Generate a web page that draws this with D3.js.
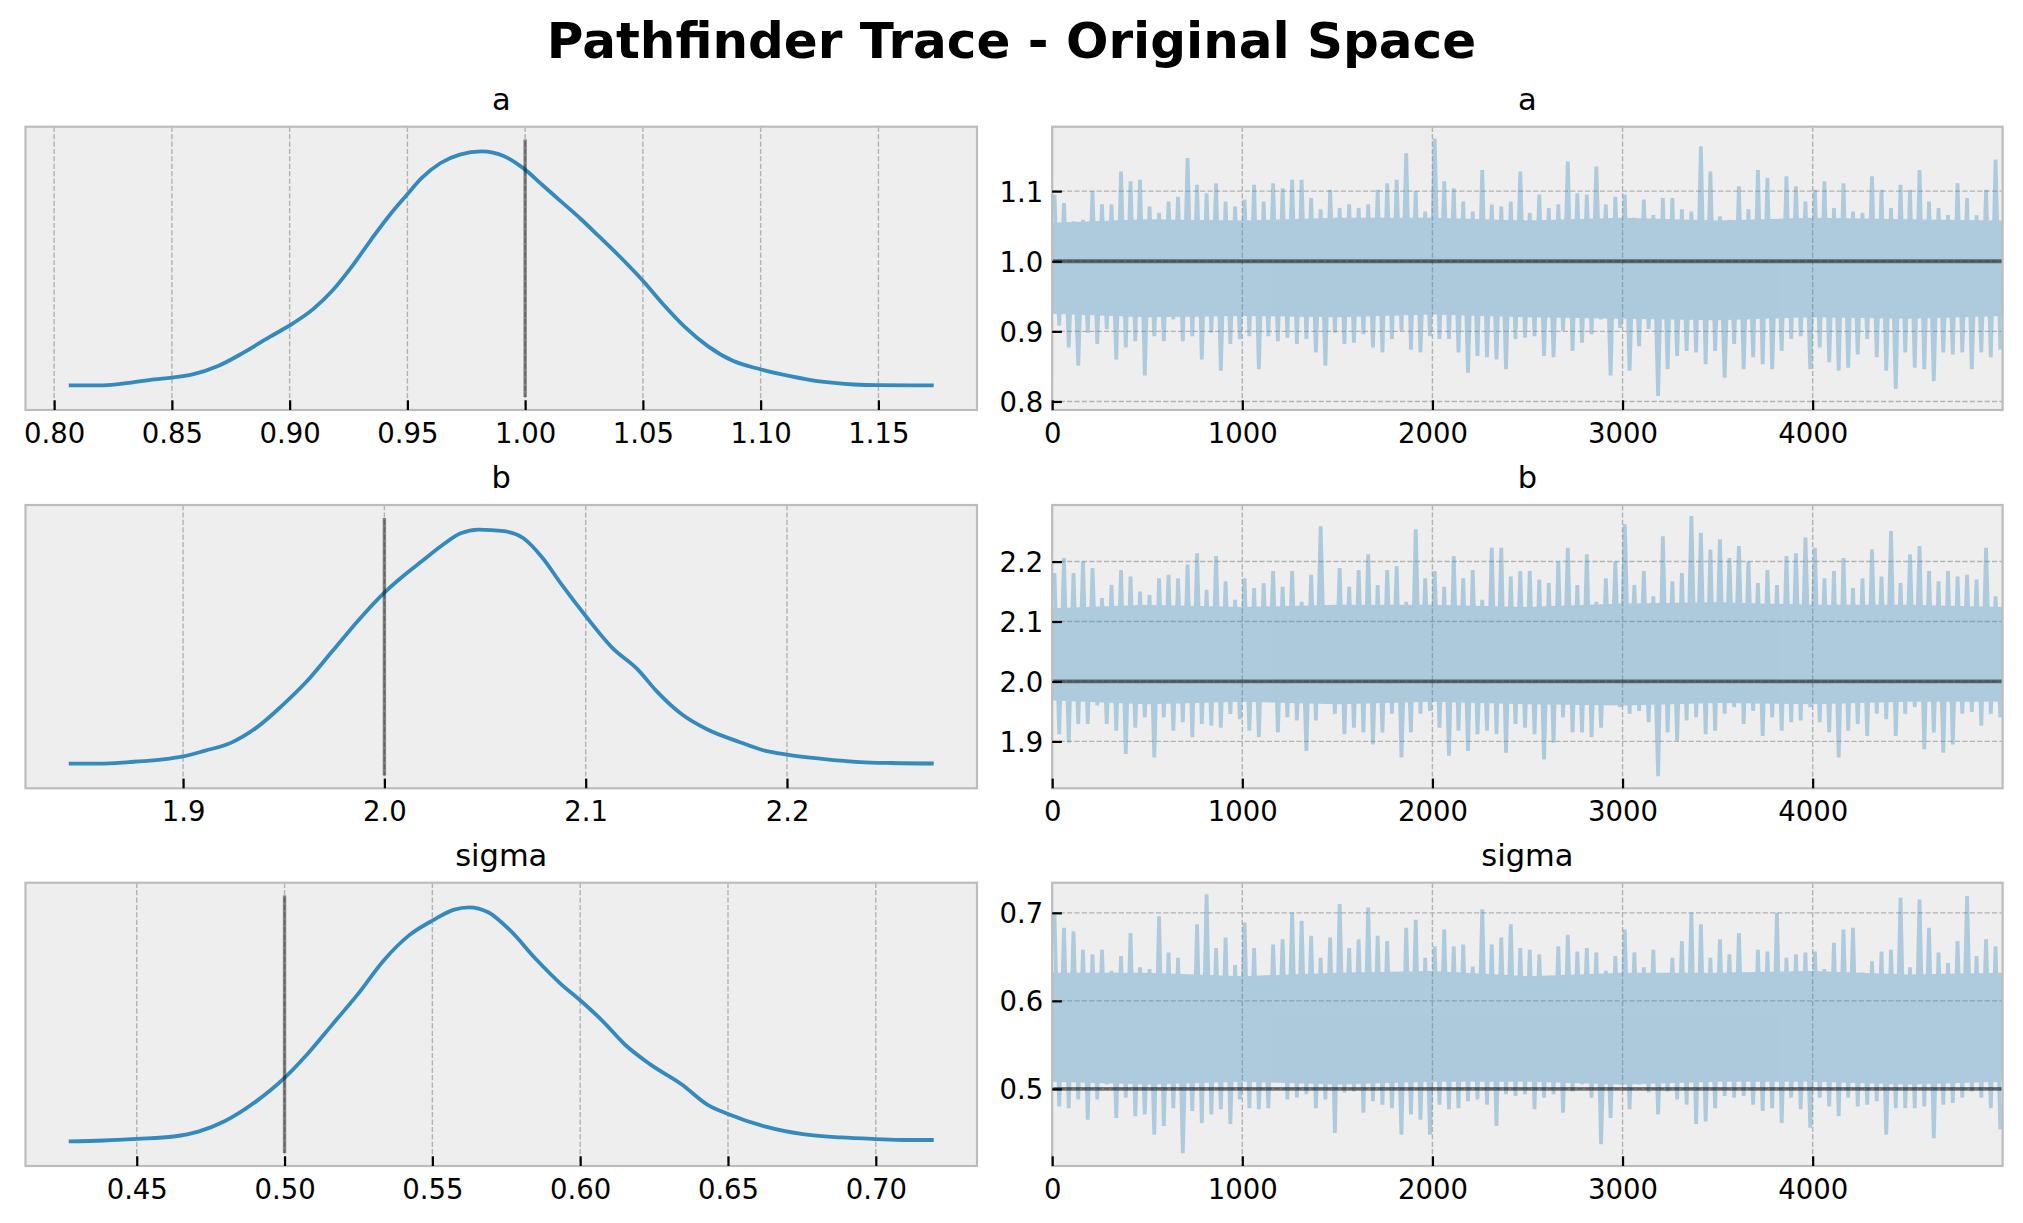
<!DOCTYPE html>
<html>
<head>
<meta charset="utf-8">
<script src="https://cdn.jsdelivr.net/npm/d3@7"></script>
<style>
  body { margin: 0; background: #ffffff; }
  svg { display: block; font-family: "DejaVu Sans", sans-serif; }
</style>
</head>
<body>
<div id="chart"></div>
<script>
// ---- data ----
var chartTitle = "Pathfinder Trace - Original Space";
var varNames = ["a", "b", "sigma"];
var refValues = [1.0, 2.0, 0.5];

// KDE curves (x = parameter value, y = relative density)
var kdeAX = [0.8062, 0.8210, 0.8318, 0.8426, 0.8499, 0.8588, 0.8696, 0.8804, 0.8912, 0.8998,
  0.9101, 0.9182, 0.9263, 0.9344, 0.9425, 0.9498, 0.9560, 0.9641, 0.9722, 0.9816,
  0.9911, 0.9992, 1.0072, 1.0153, 1.0234, 1.0315, 1.0396, 1.0499, 1.0585, 1.0680,
  1.0774, 1.0882, 1.0998, 1.1125, 1.1260, 1.1395, 1.1500, 1.1735];
var kdeAY = [0.000, 0.000, 0.011, 0.026, 0.033, 0.047, 0.083, 0.140, 0.205, 0.255,
  0.327, 0.405, 0.506, 0.620, 0.728, 0.814, 0.885, 0.950, 0.986, 1.000,
  0.979, 0.928, 0.857, 0.785, 0.713, 0.635, 0.556, 0.448, 0.348, 0.248,
  0.169, 0.105, 0.069, 0.040, 0.016, 0.004, 0.001, 0.000];

var kdeBX = [1.8432, 1.8589, 1.8732, 1.8921, 1.9000, 1.9110, 1.9237, 1.9363, 1.9489, 1.9616,
  1.9742, 1.9868, 2.0000, 2.0095, 2.0189, 2.0284, 2.0379, 2.0468, 2.0595, 2.0689,
  2.0784, 2.0879, 2.1000, 2.1131, 2.1258, 2.1352, 2.1479, 2.1605, 2.1763, 2.1889,
  2.2000, 2.2174, 2.2363, 2.2521, 2.2729];
var kdeBY = [0.000, 0.000, 0.007, 0.021, 0.031, 0.056, 0.089, 0.153, 0.246, 0.353,
  0.481, 0.610, 0.731, 0.803, 0.867, 0.931, 0.984, 1.000, 0.993, 0.964,
  0.881, 0.767, 0.631, 0.496, 0.403, 0.310, 0.210, 0.146, 0.093, 0.056,
  0.039, 0.021, 0.007, 0.003, 0.001];

var kdeSX = [0.4270, 0.4388, 0.4500, 0.4625, 0.4711, 0.4797, 0.4904, 0.5000, 0.5076, 0.5162,
  0.5248, 0.5334, 0.5420, 0.5500, 0.5571, 0.5624, 0.5689, 0.5764, 0.5850, 0.5936,
  0.6000, 0.6076, 0.6151, 0.6237, 0.6344, 0.6430, 0.6500, 0.6624, 0.6753, 0.6882,
  0.7000, 0.7097, 0.7196];
var kdeSY = [0.000, 0.004, 0.011, 0.021, 0.043, 0.086, 0.171, 0.271, 0.371, 0.500,
  0.629, 0.771, 0.879, 0.943, 0.989, 1.000, 0.979, 0.900, 0.779, 0.671,
  0.603, 0.514, 0.414, 0.329, 0.243, 0.157, 0.117, 0.064, 0.031, 0.017,
  0.010, 0.006, 0.006];

// trace: highest / lowest draw in each block of 50 draws (100 blocks, 5000 draws)
var nDraws = 5000;
var blockSize = 50;
var traceAHi = [1.095,1.083,1.057,1.059,1.100,1.081,1.081,1.128,1.114,1.116,1.078,1.069,1.085,1.092,1.147,1.109,1.097,1.111,1.085,1.078,
  1.088,1.109,1.085,1.111,1.104,1.116,1.116,1.090,1.074,1.102,1.076,1.081,1.076,1.081,1.102,1.111,1.116,1.154,1.100,1.071,
  1.175,1.114,1.104,1.085,1.071,1.130,1.081,1.078,1.085,1.128,
  1.069,1.095,1.076,1.081,1.142,1.097,1.095,1.135,1.081,1.092,1.095,1.062,1.088,1.066,1.090,1.090,1.074,1.071,1.164,1.128,
  1.064,1.059,1.107,1.074,1.130,1.119,1.059,1.121,1.107,1.085,1.102,1.114,1.076,1.111,1.071,1.069,1.121,1.102,1.076,1.109,
  1.102,1.130,1.085,1.076,1.066,1.111,1.090,1.066,1.102,1.145];
var traceALo = [0.908,0.877,0.851,0.898,0.882,0.903,0.860,0.877,0.886,0.837,0.893,0.886,0.917,0.886,0.893,0.860,0.898,0.844,0.882,0.889,
  0.893,0.846,0.893,0.886,0.891,0.882,0.889,0.870,0.851,0.898,0.882,0.884,0.896,0.877,0.870,0.889,0.901,0.874,0.870,0.893,
  0.889,0.889,0.870,0.841,0.865,0.863,0.860,0.846,0.889,0.891,
  0.893,0.865,0.863,0.901,0.872,0.884,0.896,0.917,0.837,0.905,0.844,0.879,0.903,0.808,0.846,0.865,0.872,0.870,0.853,0.872,
  0.834,0.882,0.846,0.863,0.853,0.846,0.872,0.889,0.893,0.846,0.877,0.856,0.844,0.848,0.867,0.889,0.863,0.844,0.818,0.870,
  0.848,0.846,0.829,0.870,0.867,0.870,0.846,0.870,0.863,0.874];

var traceBHi = [2.181,2.206,2.181,2.200,2.189,2.139,2.161,2.186,2.175,2.150,2.144,2.172,2.178,2.172,2.195,2.214,2.153,2.209,2.167,2.136,
  2.172,2.156,2.164,2.184,2.158,2.184,2.133,2.178,2.259,2.125,2.189,2.158,2.186,2.212,2.161,2.186,2.192,2.133,2.254,2.172,
  2.184,2.158,2.209,2.172,2.186,2.136,2.223,2.223,2.175,2.184,
  2.184,2.170,2.164,2.200,2.223,2.161,2.212,2.133,2.172,2.200,2.262,2.161,2.184,2.142,2.242,2.167,2.181,2.276,2.248,2.220,
  2.237,2.206,2.226,2.200,2.164,2.186,2.161,2.209,2.214,2.240,2.223,2.172,2.184,2.206,2.156,2.172,2.220,2.175,2.251,2.164,
  2.212,2.226,2.184,2.167,2.184,2.175,2.178,2.170,2.223,2.142];
var traceBLo = [1.912,1.898,1.929,1.929,1.960,1.929,1.918,1.879,1.923,1.940,1.873,1.940,1.918,1.932,1.907,1.929,1.926,1.923,1.946,1.937,
  1.918,1.907,1.974,1.915,1.940,1.935,1.884,1.935,1.963,1.946,1.912,1.923,1.915,1.895,1.915,1.946,1.873,1.915,1.946,1.951,
  1.923,1.876,1.918,1.884,1.912,1.918,1.912,1.881,1.929,1.923,
  1.912,1.870,1.898,1.940,1.915,1.915,1.907,1.923,1.963,1.957,1.946,1.951,1.932,1.842,1.915,1.901,1.935,1.940,1.912,1.918,
  1.946,1.957,1.929,1.951,1.909,1.940,1.918,1.932,1.935,1.957,1.932,1.915,1.873,1.918,1.929,1.909,1.946,1.937,1.909,1.946,
  1.957,1.887,1.915,1.881,1.895,1.946,1.949,1.926,1.946,1.940];

var traceSHi = [0.698,0.683,0.679,0.658,0.653,0.658,0.634,0.651,0.677,0.638,0.636,0.696,0.655,0.649,0.630,0.687,0.721,0.660,0.672,0.641,
  0.689,0.660,0.615,0.664,0.670,0.700,0.691,0.674,0.649,0.672,0.710,0.660,0.670,0.706,0.674,0.668,0.630,0.683,0.692,0.649,
  0.662,0.681,0.662,0.664,0.639,0.704,0.664,0.672,0.687,0.660,
  0.658,0.653,0.622,0.662,0.675,0.656,0.660,0.655,0.634,0.651,0.681,0.655,0.638,0.658,0.624,0.649,0.668,0.700,0.687,0.649,
  0.670,0.653,0.677,0.624,0.658,0.656,0.700,0.649,0.653,0.655,0.656,0.636,0.666,0.681,0.683,0.632,0.645,0.656,0.658,0.717,
  0.638,0.715,0.683,0.655,0.643,0.668,0.719,0.651,0.670,0.662];
var traceSLo = [0.480,0.478,0.488,0.465,0.488,0.505,0.467,0.490,0.469,0.471,0.448,0.458,0.478,0.427,0.475,0.461,0.471,0.477,0.460,0.488,
  0.478,0.477,0.478,0.511,0.488,0.490,0.494,0.478,0.488,0.450,0.496,0.497,0.473,0.486,0.482,0.478,0.448,0.471,0.465,0.448,
  0.482,0.477,0.478,0.486,0.488,0.482,0.458,0.494,0.492,0.494,
  0.477,0.490,0.494,0.473,0.497,0.505,0.490,0.437,0.467,0.505,0.477,0.505,0.496,0.471,0.497,0.488,0.482,0.460,0.463,0.478,
  0.492,0.490,0.492,0.482,0.475,0.478,0.461,0.490,0.477,0.456,0.490,0.480,0.469,0.490,0.480,0.482,0.486,0.448,0.478,0.478,
  0.478,0.480,0.444,0.482,0.484,0.490,0.497,0.490,0.478,0.454];

// dense core of each trace (edges of the solid band), every 500 draws
var coreDraws = [0, 500, 1000, 1500, 2000, 2500, 3000, 3500, 4000, 4500, 4999];
var traceACoreHi = [1.055, 1.060, 1.058, 1.062, 1.062, 1.058, 1.062, 1.058, 1.062, 1.060, 1.058];
var traceACoreLo = [0.925, 0.920, 0.922, 0.920, 0.924, 0.920, 0.918, 0.916, 0.920, 0.918, 0.922];
var traceBCoreHi = [2.122, 2.128, 2.124, 2.128, 2.128, 2.124, 2.130, 2.132, 2.128, 2.128, 2.124];
var traceBCoreLo = [1.968, 1.962, 1.966, 1.962, 1.966, 1.962, 1.960, 1.964, 1.962, 1.966, 1.966];
var traceSCoreHi = [0.632, 0.632, 0.628, 0.632, 0.634, 0.628, 0.632, 0.632, 0.634, 0.630, 0.632];
var traceSCoreLo = [0.508, 0.505, 0.508, 0.505, 0.508, 0.508, 0.505, 0.508, 0.508, 0.505, 0.508];

// tick values
var kdeATicks = [0.80, 0.85, 0.90, 0.95, 1.00, 1.05, 1.10, 1.15];
var kdeBTicks = [1.9, 2.0, 2.1, 2.2];
var kdeSTicks = [0.45, 0.50, 0.55, 0.60, 0.65, 0.70];
var traceATicks = [0.8, 0.9, 1.0, 1.1];
var traceBTicks = [1.9, 2.0, 2.1, 2.2];
var traceSTicks = [0.5, 0.6, 0.7];
var drawTicks = [0, 1000, 2000, 3000, 4000];

// ---- layout and style (bmh-like) ----
var W = 2023, H = 1223;
var colLeft = [25.5, 1052.2];
var colWidth = [951.5, 950.4];
var rowTop = [126.7, 505, 882.7];
var rowHeight = 283.3;

var C0 = "#348ABD";
var faceColor = "#eeeeee";
var spineColor = "#bcbcbc";
var gridColor = "#b2b2b2";
var tickFont = 27.5;
var titleFont = 30.5;

var rows = [
  {name: varNames[0], ref: refValues[0], kx: kdeAX, ky: kdeAY, kticks: kdeATicks, kfmt: ".2f",
   hi: traceAHi, lo: traceALo, coreHi: traceACoreHi, coreLo: traceACoreLo, tticks: traceATicks},
  {name: varNames[1], ref: refValues[1], kx: kdeBX, ky: kdeBY, kticks: kdeBTicks, kfmt: ".1f",
   hi: traceBHi, lo: traceBLo, coreHi: traceBCoreHi, coreLo: traceBCoreLo, tticks: traceBTicks},
  {name: varNames[2], ref: refValues[2], kx: kdeSX, ky: kdeSY, kticks: kdeSTicks, kfmt: ".2f",
   hi: traceSHi, lo: traceSLo, coreHi: traceSCoreHi, coreLo: traceSCoreLo, tticks: traceSTicks}
];

var svg = d3.select("#chart").append("svg")
  .attr("width", W)
  .attr("height", H);

svg.append("text")
  .attr("x", W / 2)
  .attr("y", 58)
  .attr("text-anchor", "middle")
  .attr("font-size", 50)
  .attr("font-weight", "bold")
  .attr("fill", "#000")
  .text(chartTitle);

// pad an extent by a fraction of its range (matplotlib autoscale margins)
function padded(ext, frac) {
  var r = ext[1] - ext[0];
  return [ext[0] - r * frac, ext[1] + r * frac];
}

// background, title and clip for one panel
function panelBase(g, id, left, top, width, name) {
  g.append("rect")
    .attr("x", left).attr("y", top)
    .attr("width", width).attr("height", rowHeight)
    .attr("fill", faceColor);
  g.append("clipPath").attr("id", id)
    .append("rect")
    .attr("x", left).attr("y", top)
    .attr("width", width).attr("height", rowHeight);
  g.append("text")
    .attr("x", left + width / 2)
    .attr("y", top - 17)
    .attr("text-anchor", "middle")
    .attr("font-size", titleFont)
    .attr("fill", "#000")
    .text(name);
}

function vGrid(g, x, ticks, top) {
  g.append("g").selectAll("line").data(ticks).join("line")
    .attr("x1", function(d) { return x(d); })
    .attr("x2", function(d) { return x(d); })
    .attr("y1", top).attr("y2", top + rowHeight)
    .attr("stroke", gridColor)
    .attr("stroke-width", 1.4)
    .attr("stroke-dasharray", "5.2,2.2");
}

function hGrid(g, y, ticks, left, width) {
  g.append("g").selectAll("line").data(ticks).join("line")
    .attr("y1", function(d) { return y(d); })
    .attr("y2", function(d) { return y(d); })
    .attr("x1", left).attr("x2", left + width)
    .attr("stroke", gridColor)
    .attr("stroke-width", 1.4)
    .attr("stroke-dasharray", "5.2,2.2");
}

// inward ticks using d3 axes; labels placed outside
function bottomAxis(g, x, ticks, fmt, bottom) {
  var ax = g.append("g")
    .attr("transform", "translate(0," + bottom + ")")
    .call(d3.axisBottom(x).tickValues(ticks).tickFormat(d3.format(fmt))
      .tickSizeInner(-9.7).tickSizeOuter(0).tickPadding(0));
  ax.select(".domain").remove();
  ax.selectAll(".tick line").attr("stroke", "#000").attr("stroke-width", 2.2);
  ax.selectAll(".tick text")
    .attr("y", 33).attr("dy", null)
    .attr("font-size", tickFont)
    .attr("font-family", "DejaVu Sans")
    .attr("fill", "#000");
}

function leftAxis(g, y, ticks, left) {
  var ax = g.append("g")
    .attr("transform", "translate(" + left + ",0)")
    .call(d3.axisLeft(y).tickValues(ticks).tickFormat(d3.format(".1f"))
      .tickSizeInner(-9.7).tickSizeOuter(0).tickPadding(0));
  ax.select(".domain").remove();
  ax.selectAll(".tick line").attr("stroke", "#000").attr("stroke-width", 2.2);
  ax.selectAll(".tick text")
    .attr("x", -9).attr("dy", "0.36em")
    .attr("font-size", tickFont)
    .attr("font-family", "DejaVu Sans")
    .attr("fill", "#000");
}

function frame(g, left, top, width) {
  g.append("rect")
    .attr("x", left).attr("y", top)
    .attr("width", width).attr("height", rowHeight)
    .attr("fill", "none")
    .attr("stroke", spineColor)
    .attr("stroke-width", 2.2);
}

rows.forEach(function(row, i) {
  var top = rowTop[i];
  var bottom = top + rowHeight;
  var dataExt = d3.extent(row.kx);
  var valueDomain = padded(dataExt, 0.05);

  // ---- left: KDE ----
  var gk = svg.append("g");
  var kl = colLeft[0], kw = colWidth[0];
  panelBase(gk, "clipk" + i, kl, top, kw, row.name);

  var kx = d3.scaleLinear().domain(valueDomain).range([kl, kl + kw]);
  var dExt = d3.extent(row.ky);
  var vlineSpan = padded(dExt, 0.05);          // limits before the ref line was added
  var ky = d3.scaleLinear().domain(padded(vlineSpan, 0.05)).range([bottom, top]);

  vGrid(gk, kx, row.kticks, top);

  var kdePts = row.kx.map(function(v, j) { return [v, row.ky[j]]; });
  gk.append("path")
    .datum(kdePts)
    .attr("clip-path", "url(#clipk" + i + ")")
    .attr("d", d3.line()
      .x(function(d) { return kx(d[0]); })
      .y(function(d) { return ky(d[1]); })
      .curve(d3.curveMonotoneX))
    .attr("fill", "none")
    .attr("stroke", C0)
    .attr("stroke-width", 3.8);

  gk.append("line")
    .attr("x1", kx(row.ref)).attr("x2", kx(row.ref))
    .attr("y1", ky(vlineSpan[0])).attr("y2", ky(vlineSpan[1]))
    .attr("stroke", "#000")
    .attr("stroke-opacity", 0.45)
    .attr("stroke-width", 3.4);

  frame(gk, kl, top, kw);
  bottomAxis(gk, kx, row.kticks, row.kfmt, bottom);

  // ---- right: trace ----
  var gt = svg.append("g");
  var tl = colLeft[1], tw = colWidth[1];
  panelBase(gt, "clipt" + i, tl, top, tw, row.name);

  var tx = d3.scaleLinear().domain([0, nDraws - 1]).range([tl, tl + tw]);
  var ty = d3.scaleLinear().domain(valueDomain).range([bottom, top]);

  vGrid(gt, tx, drawTicks, top);
  hGrid(gt, ty, row.tticks, tl, tw);

  // one translucent layer so overlaps keep a single tint
  var layer = gt.append("g")
    .attr("clip-path", "url(#clipt" + i + ")")
    .attr("opacity", 0.35);

  var corePts = coreDraws.map(function(d, j) { return [d, row.coreLo[j], row.coreHi[j]]; });
  layer.append("path")
    .datum(corePts)
    .attr("d", d3.area()
      .x(function(d) { return tx(d[0]); })
      .y0(function(d) { return ty(d[1]); })
      .y1(function(d) { return ty(d[2]); }))
    .attr("fill", C0);

  var zig = [];
  row.hi.forEach(function(h, j) {
    zig.push([j * blockSize + 12, h]);
    zig.push([j * blockSize + 37, row.lo[j]]);
  });
  layer.append("path")
    .datum(zig)
    .attr("d", d3.line()
      .x(function(d) { return tx(d[0]); })
      .y(function(d) { return ty(d[1]); }))
    .attr("fill", "none")
    .attr("stroke", C0)
    .attr("stroke-width", 3.8)
    .attr("stroke-linejoin", "miter");

  gt.append("line")
    .attr("x1", tx(0)).attr("x2", tx(nDraws - 1))
    .attr("y1", ty(row.ref)).attr("y2", ty(row.ref))
    .attr("stroke", "#000")
    .attr("stroke-opacity", 0.5)
    .attr("stroke-width", 3.8);

  frame(gt, tl, top, tw);
  bottomAxis(gt, tx, drawTicks, "d", bottom);
  leftAxis(gt, ty, row.tticks, tl);
});
</script>
</body>
</html>
